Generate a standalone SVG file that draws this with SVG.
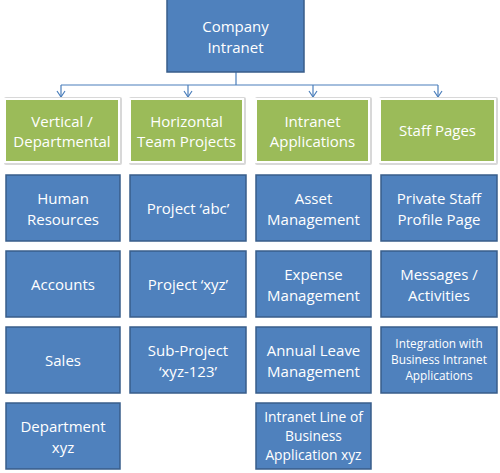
<svg xmlns="http://www.w3.org/2000/svg" width="500" height="473" viewBox="0 0 500 473">
<defs>
<style>
.b{fill:#4F81BD;stroke:#385D8A;stroke-width:1.5}
.g{fill:#9BBB59;stroke:#FFFFFF;stroke-width:2}
.sh{fill:#D8D8D8}
.t{font-family:"Open Sans","Liberation Sans",sans-serif;font-size:15px;fill:#FFFFFF;text-anchor:middle}
.s{font-size:11.8px}
.m{font-size:13.8px}
.c{fill:none;stroke:#4A7EBB;stroke-width:1.2}
</style>
<marker id="ar" markerWidth="10" markerHeight="10" refX="8" refY="5" orient="auto" markerUnits="userSpaceOnUse">
<path d="M2,1 L8,5 L2,9" fill="none" stroke="#4A7EBB" stroke-width="1.2"/>
</marker>
</defs>
<rect width="500" height="473" fill="#FFFFFF"/>
<g id="connectors">
<path class="c" d="M236,72 V85 M61,85 H438"/>
<path class="c" d="M61,85 V97" marker-end="url(#ar)"/>
<path class="c" d="M188,85 V97" marker-end="url(#ar)"/>
<path class="c" d="M313,85 V97" marker-end="url(#ar)"/>
<path class="c" d="M438,85 V97" marker-end="url(#ar)"/>
</g>
<g id="company-intranet"><rect class="b" x="167" y="-1" width="137" height="73"/><text class="t" x="235.5" y="32">Company</text><text class="t" x="235.5" y="53">Intranet</text></g>

<g id="vertical"><rect class="sh" x="4" y="97" width="118" height="68" rx="2"/><rect class="g" x="5" y="99" width="114" height="63"/><text class="t" x="62" y="126.5">Vertical /</text><text class="t" x="62" y="146.5">Departmental</text></g>
<g id="horizontal"><rect class="sh" x="129" y="97" width="117" height="68" rx="2"/><rect class="g" x="130" y="99" width="113" height="63"/><text class="t" x="186.5" y="126.5">Horizontal</text><text class="t" x="186.5" y="146.5">Team Projects</text></g>
<g id="intranet-apps"><rect class="sh" x="255" y="97" width="117" height="68" rx="2"/><rect class="g" x="256" y="99" width="113" height="63"/><text class="t" x="312.5" y="126.5">Intranet</text><text class="t" x="312.5" y="146.5">Applications</text></g>
<g id="staff-pages"><rect class="sh" x="379" y="97" width="119" height="68" rx="2"/><rect class="g" x="380" y="99" width="115" height="63"/><text class="t" x="437.5" y="136">Staff Pages</text></g>

<g id="human-resources"><rect class="b" x="6" y="175" width="114" height="66"/><text class="t" x="63" y="203.5">Human</text><text class="t" x="63" y="224.5">Resources</text></g>
<g id="accounts"><rect class="b" x="6" y="251" width="114" height="66"/><text class="t" x="63" y="289.5">Accounts</text></g>
<g id="sales"><rect class="b" x="6" y="327" width="114" height="66"/><text class="t" x="63" y="365.5">Sales</text></g>
<g id="department-xyz"><rect class="b" x="6" y="403" width="114" height="66"/><text class="t" x="63" y="431.5">Department</text><text class="t" x="63" y="452.5">xyz</text></g>

<g id="project-abc"><rect class="b" x="130" y="175" width="116" height="66"/><text class="t" x="188" y="213.5">Project ‘abc’</text></g>
<g id="project-xyz"><rect class="b" x="130" y="251" width="116" height="66"/><text class="t" x="188" y="289.5">Project ‘xyz’</text></g>
<g id="sub-project"><rect class="b" x="130" y="327" width="116" height="66"/><text class="t" x="188" y="355.5">Sub-Project</text><text class="t" x="188" y="376.5">‘xyz-123’</text></g>

<g id="asset-management"><rect class="b" x="256" y="175" width="115" height="66"/><text class="t" x="313.5" y="203.5">Asset</text><text class="t" x="313.5" y="224.5">Management</text></g>
<g id="expense-management"><rect class="b" x="256" y="251" width="115" height="66"/><text class="t" x="313.5" y="279.5">Expense</text><text class="t" x="313.5" y="300.5">Management</text></g>
<g id="annual-leave"><rect class="b" x="256" y="327" width="115" height="66"/><text class="t" x="313.5" y="355.5">Annual Leave</text><text class="t" x="313.5" y="376.5">Management</text></g>
<g id="intranet-lob"><rect class="b" x="256" y="403" width="115" height="66"/><text class="t m" x="313.5" y="422">Intranet Line of</text><text class="t m" x="313.5" y="441">Business</text><text class="t m" x="313.5" y="459.5">Application xyz</text></g>

<g id="private-staff"><rect class="b" x="381" y="175" width="116" height="66"/><text class="t" x="439" y="203.5">Private Staff</text><text class="t" x="439" y="224.5">Profile Page</text></g>
<g id="messages"><rect class="b" x="381" y="251" width="116" height="66"/><text class="t" x="439" y="279.5">Messages /</text><text class="t" x="439" y="300.5">Activities</text></g>
<g id="integration"><rect class="b" x="381" y="327" width="116" height="66"/><text class="t s" x="439" y="347.5">Integration with</text><text class="t s" x="439" y="364">Business Intranet</text><text class="t s" x="439" y="379.5">Applications</text></g>
</svg>
